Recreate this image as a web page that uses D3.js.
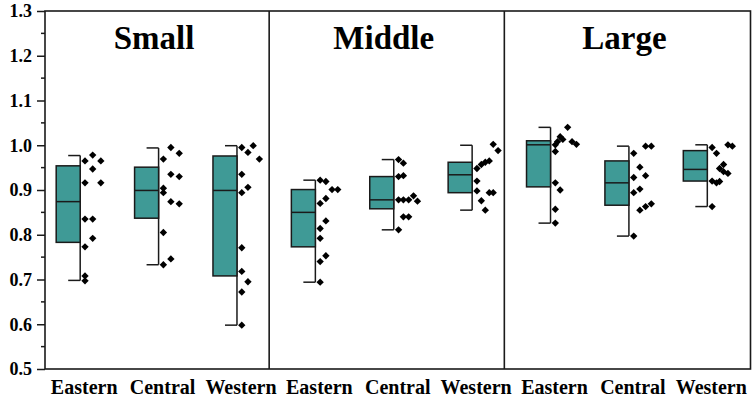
<!DOCTYPE html>
<html>
<head>
<meta charset="utf-8">
<script src="https://cdn.jsdelivr.net/npm/d3@7"></script>
<style>
  html, body { margin: 0; padding: 0; background: #fff; }
  svg { display: block; }
  text { font-family: "Liberation Serif", "Times New Roman", serif; font-weight: bold; fill: #000; }
</style>
</head>
<body>
<svg id="chart" width="754" height="398"></svg>
<script>
// ---------- data ----------
const panels = ["Small", "Middle", "Large"];
const regions = ["Eastern", "Central", "Western"];
const yTicks = [0.5, 0.6, 0.7, 0.8, 0.9, 1.0, 1.1, 1.2, 1.3];

// order: Small-E, Small-C, Small-W, Middle-E, Middle-C, Middle-W, Large-E, Large-C, Large-W
const whiskerLow  = [0.698, 0.733, 0.598, 0.694, 0.811, 0.855, 0.826, 0.797, 0.863];
const q1          = [0.783, 0.837, 0.708, 0.773, 0.858, 0.894, 0.907, 0.866, 0.920];
const median      = [0.874, 0.899, 0.899, 0.850, 0.878, 0.934, 1.001, 0.916, 0.946];
const q3          = [0.954, 0.951, 0.976, 0.901, 0.930, 0.962, 1.010, 0.965, 0.988];
const whiskerHigh = [0.977, 0.994, 0.999, 0.922, 0.968, 1.000, 1.040, 0.998, 1.001];

const pointValues = [
  [0.965, 0.978, 0.965, 0.947, 0.916, 0.916, 0.835, 0.835, 0.792, 0.773, 0.708, 0.697],
  [0.995, 0.982, 0.969, 0.935, 0.930, 0.904, 0.894, 0.874, 0.869, 0.805, 0.746, 0.733],
  [0.995, 0.999, 0.984, 0.969, 0.935, 0.906, 0.894, 0.771, 0.718, 0.695, 0.672, 0.598],
  [0.922, 0.919, 0.901, 0.901, 0.881, 0.870, 0.831, 0.814, 0.792, 0.753, 0.740, 0.694],
  [0.968, 0.960, 0.930, 0.932, 0.878, 0.878, 0.878, 0.887, 0.875, 0.840, 0.840, 0.811],
  [1.002, 0.988, 0.948, 0.957, 0.962, 0.965, 0.920, 0.898, 0.894, 0.894, 0.876, 0.855],
  [1.040, 1.019, 1.013, 1.008, 1.001, 1.008, 1.002, 0.986, 0.916, 0.900, 0.857, 0.826],
  [0.998, 0.998, 0.982, 0.951, 0.932, 0.928, 0.902, 0.894, 0.869, 0.863, 0.855, 0.797],
  [0.995, 0.982, 1.001, 0.998, 0.957, 0.948, 0.941, 0.937, 0.920, 0.916, 0.919, 0.863]
];
// jitter lane of each point (horizontal spread of the overlapped data points)
const pointLanes = [
  [0, 1.75, 3.6, 1.75, 0, 3.6, 0, 1.75, 1.75, 0, 0, 0],
  [1.7, 3.6, 0, 1.7, 3.6, 0, 0, 1.7, 3.6, 0, 1.7, 0],
  [0, 2.6, 1.4, 4, 0, 1.4, 0, 0, 0, 1.4, 0, 0],
  [0, 1.3, 2.7, 4, 1.3, 0, 1.3, 0, 0, 1.3, 0, 0],
  [0, 1.1, 0, 1.1, 0, 1.1, 2.3, 3.4, 4.3, 1.1, 2.3, 0],
  [3.7, 4.8, 0, 1, 1.9, 2.8, 0, 0, 2.8, 3.7, 1, 1.9],
  [2.8, 1.1, 1.7, 0.5, 0, 3.8, 4.8, 0, 0, 1.1, 0, 0],
  [2.7, 4, 0, 1.4, 2.7, 0, 1.4, 0, 4, 2.7, 1.4, 0],
  [0, 1, 3.6, 4.6, 2.6, 1.7, 2.6, 3.6, 0, 1, 1.7, 0]
];

// ---------- layout ----------
const W = 754, H = 398;
const M = { left: 45, right: 3.5, top: 11, bottom: 29 };
const plotL = M.left, plotR = W - M.right, plotT = M.top, plotB = H - M.bottom;

const svg = d3.select("#chart");

const categories = d3.range(panels.length * regions.length);
const x = d3.scaleLinear().domain([-0.5, categories.length - 0.5]).range([plotL, plotR]);
const y = d3.scaleLinear().domain([0.5, 1.3]).range([plotB, plotT]);

const boxW = 24, whiskerOffset = -4, laneW = 4.4, laneStart = 4.8;
const teal = "#3f9a96", ink = "#1a1a1a";
const serif = "'Liberation Serif', 'Times New Roman', serif";

// box elements
const g = svg.append("g");
categories.forEach(i => {
  const cx = x(i);
  const wx = cx + whiskerOffset;       // whisker / right edge of box
  const bl = wx - boxW;                // left edge of box
  const bc = wx - boxW / 2;            // box centre
  g.append("line").attr("x1", wx).attr("x2", wx)
    .attr("y1", y(whiskerLow[i])).attr("y2", y(whiskerHigh[i]))
    .attr("stroke", ink).attr("stroke-width", 1.5);
  [whiskerLow[i], whiskerHigh[i]].forEach(v => {
    g.append("line").attr("x1", bc).attr("x2", wx)
      .attr("y1", y(v)).attr("y2", y(v))
      .attr("stroke", ink).attr("stroke-width", 1.5);
  });
  g.append("rect").attr("x", bl).attr("width", boxW)
    .attr("y", y(q3[i])).attr("height", y(q1[i]) - y(q3[i]))
    .attr("fill", teal).attr("stroke", ink).attr("stroke-width", 1.5);
  g.append("line").attr("x1", bl).attr("x2", wx)
    .attr("y1", y(median[i])).attr("y2", y(median[i]))
    .attr("stroke", ink).attr("stroke-width", 1.5);
  const diamond = d3.symbol().type(d3.symbolSquare).size(27);
  pointValues[i].forEach((v, k) => {
    const px = wx + laneStart + pointLanes[i][k] * laneW;
    g.append("path").attr("d", diamond())
      .attr("transform", `translate(${px},${y(v)}) rotate(45)`)
      .attr("fill", "#000");
  });
});

// frame
svg.append("rect").attr("x", plotL).attr("y", plotT)
  .attr("width", plotR - plotL).attr("height", plotB - plotT)
  .attr("fill", "none").attr("stroke", ink).attr("stroke-width", 1.6);

// panel dividers
const dividerShift = -11;
[2.5, 5.5].forEach(b => {
  svg.append("line").attr("x1", x(b) + dividerShift).attr("x2", x(b) + dividerShift)
    .attr("y1", plotT).attr("y2", plotB)
    .attr("stroke", ink).attr("stroke-width", 1.6);
});

// y axis
const yAxis = d3.axisLeft(y).tickValues(yTicks).tickFormat(d3.format(".1f")).tickSize(8).tickPadding(5);
const ya = svg.append("g").attr("transform", `translate(${plotL},0)`).call(yAxis)
  .attr("font-family", serif).attr("font-size", 18).attr("font-weight", "bold");
ya.select(".domain").remove();
ya.selectAll(".tick line").attr("stroke", ink).attr("stroke-width", 1.5);
ya.selectAll(".tick text").style("font-size", "18px").attr("fill", "#000");
// minor ticks
const minor = d3.range(0.55, 1.3, 0.1);
svg.append("g").selectAll("line").data(minor).join("line")
  .attr("x1", plotL - 4).attr("x2", plotL)
  .attr("y1", d => y(d)).attr("y2", d => y(d))
  .attr("stroke", ink).attr("stroke-width", 1.5);

// x labels
categories.forEach(i => {
  svg.append("text").attr("x", x(i)).attr("y", 394)
    .attr("text-anchor", "middle").style("font-size", "20px")
    .text(regions[i % regions.length]);
});

// panel titles
const bounds = [plotL, x(2.5) + dividerShift, x(5.5) + dividerShift, plotR];
panels.forEach((p, j) => {
  svg.append("text").attr("x", (bounds[j] + bounds[j + 1]) / 2 - 3).attr("y", 48.5)
    .attr("text-anchor", "middle").style("font-size", "33px")
    .text(p);
});
</script>
</body>
</html>
